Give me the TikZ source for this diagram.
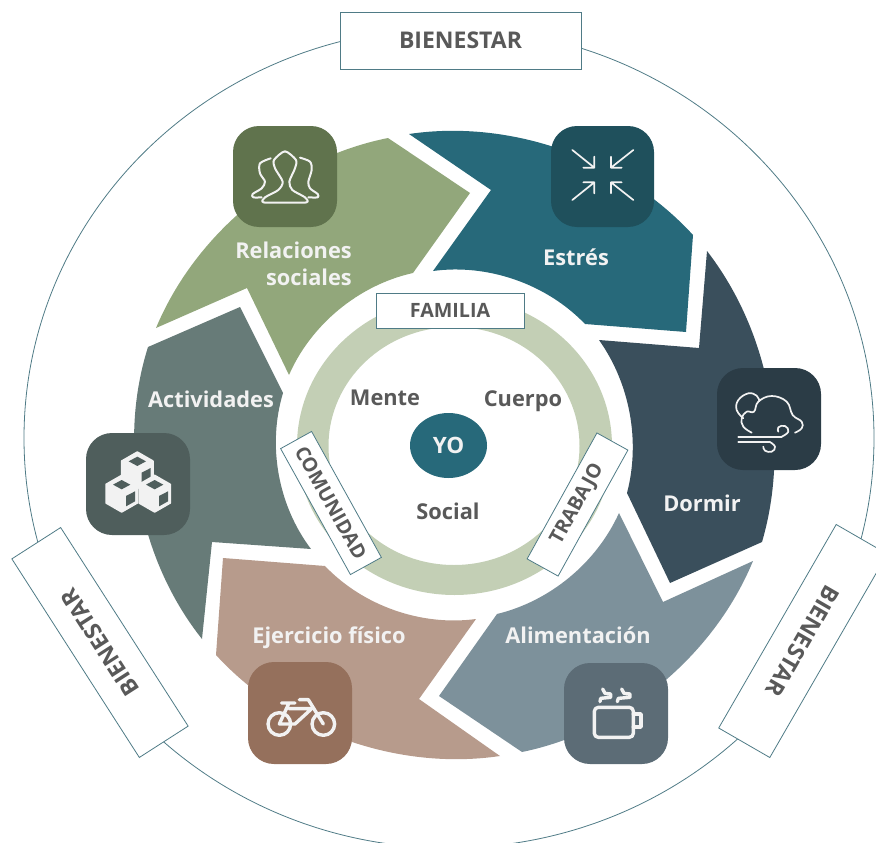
\documentclass[tikz,border=0pt]{standalone}
\usepackage{fontspec}
\setmainfont{Open Sans}
\usetikzlibrary{calc,shapes.geometric}
\definecolor{cRel}{HTML}{92A77B}\definecolor{iRel}{HTML}{60734D}
\definecolor{cEst}{HTML}{27697A}\definecolor{iEst}{HTML}{1F505C}
\definecolor{cDor}{HTML}{3A4F5C}\definecolor{iDor}{HTML}{2B3C46}
\definecolor{cAli}{HTML}{7D919B}\definecolor{iAli}{HTML}{5C6C76}
\definecolor{cEje}{HTML}{B79B8C}\definecolor{iEje}{HTML}{95705C}
\definecolor{cAct}{HTML}{677B78}\definecolor{iAct}{HTML}{4F5E5C}
\definecolor{ringc}{HTML}{C3CFB5}\definecolor{txtc}{HTML}{595959}
\definecolor{edgec}{HTML}{4F7B86}\definecolor{glyph}{HTML}{F2F2F2}
\tikzset{
 arcb/.style={looseness=0.88},
 labelbox/.style={draw=edgec,fill=white,line width=0.8pt,inner sep=0pt,text=txtc,font=\fontsize{19.7}{22}\selectfont\bfseries},
 bigbox/.style={labelbox,font=\fontsize{23}{25}\selectfont\bfseries},
 seglabel/.style={text=glyph,font=\fontsize{21.8}{27}\selectfont\bfseries,inner sep=0pt},
 midlabel/.style={text=txtc,font=\fontsize{21.8}{24}\selectfont\bfseries,inner sep=0pt},
 iconbox/.style={rounded corners=26pt,draw=none},
 thinicon/.style={draw=glyph,line width=1.7pt,line cap=round,line join=round},
 thickicon/.style={draw=glyph,line width=3.4pt,line cap=round,line join=round},
 zoomed/.style={x=0.33333pt,y=-0.33333pt},
}
\begin{document}
\begin{tikzpicture}[x=1pt,y=-1pt]
\clip (0,0) rectangle (876,843);
% outer ellipse
\draw[edgec,line width=0.8pt] (449,438) ellipse [x radius=425pt,y radius=410pt];
% outer boxes
\node[bigbox,minimum width=241pt,minimum height=57pt] (topbox) at (460.5,40.5) {BIENESTAR};
\node[bigbox,minimum width=236pt,minimum height=58pt,rotate=122.7] (leftbox) at (100,642.5) {BIENESTAR};
\node[bigbox,minimum width=235pt,minimum height=59pt,rotate=240] (rightbox) at (803,641) {BIENESTAR};
% segments
\fill[cRel] (470,193) -- (413,273) to[bend right=27,arcb] (289,375) -- (247,288) -- (156,328) to[bend left=28,arcb] (388,138) -- cycle;
\fill[cEst] (409,134) to[bend left=28,arcb] (693,235) -- (686,332) -- (585,324) to[bend right=27,arcb] (433,271) -- (491,190) -- cycle;
\fill[cDor] (707,251) to[bend left=27,arcb] (762,542) -- (670,583) -- (627,493) to[bend right=25,arcb] (599,340) -- (699,348) -- cycle;
\fill[cAli] (753,561) to[bend left=28,arcb] (522,752) -- (439,696) -- (497,614) to[bend right=26,arcb] (619,513) -- (663,602) -- cycle;
\fill[cEje] (500,756) to[bend left=28,arcb] (216,655) -- (223,558) -- (325,566) to[bend right=27,arcb] (476,619) -- (419,699) -- cycle;
\fill[cAct] (202,639) to[bend left=28,arcb] (148,347) -- (240,307) -- (283,393) to[bend right=27,arcb] (311,549) -- (212,542) -- cycle;
% ring
\fill[ringc,even odd rule] (454.5,446) ellipse [x radius=157.5pt,y radius=149pt] (454,446) ellipse [x radius=125.5pt,y radius=119pt];
% inner boxes
\node[labelbox,minimum width=148pt,minimum height=35pt] (familia) at (450,310.5) {FAMILIA};
\node[labelbox,minimum width=144pt,minimum height=35.4pt,rotate=61] (trabajo) at (577.5,504.5) {TRABAJO};
\node[labelbox,minimum width=144pt,minimum height=35.4pt,rotate=-61] (comunidad) at (331,503) {COMUNIDAD};
% centre
\node[ellipse,fill=cEst,minimum width=77pt,minimum height=65pt,inner sep=0pt,text=glyph,font=\fontsize{22.5}{24}\selectfont\bfseries] (yo) at (448.5,445.5) {YO};
\node[midlabel,anchor=base] (mente) at (385,405) {Mente};
\node[midlabel,anchor=base] (cuerpo) at (523,406) {Cuerpo};
\node[midlabel,anchor=base] (social) at (448,519) {Social};
% segment labels
\node[seglabel,align=right,anchor=east] (relaciones) at (352,263.5) {Relaciones\\sociales};
\node[seglabel,anchor=base] (estres) at (576,265) {Estrés};
\node[seglabel,anchor=base] (dormir) at (702,511) {Dormir};
\node[seglabel,anchor=base] (alimentacion) at (578,643) {Alimentación};
\node[seglabel,anchor=base] (ejercicio) at (329,643) {Ejercicio físico};
\node[seglabel,anchor=base] (actividades) at (211,407) {Actividades};
% icon tiles
\fill[iRel,iconbox] (233,126) rectangle (337,227);
\fill[iEst,iconbox] (551,126) rectangle (654,227);
\fill[iDor,iconbox] (717,368) rectangle (821,470);
\fill[iAli,iconbox] (564,663) rectangle (668,764);
\fill[iEje,iconbox] (248,662) rectangle (352,764);
\fill[iAct,iconbox] (86,433) rectangle (190,535);
% stress arrows
\begin{scope}[shift={(540,120)},zoomed,thinicon]
\draw (97,90) -- (163,143) (130,143) -- (163,143) -- (163,110);
\draw (280,90) -- (213,143) (245,143) -- (213,143) -- (213,110);
\draw (97,240) -- (163,187) (130,187) -- (163,187) -- (163,220);
\draw (280,240) -- (213,187) (245,187) -- (213,187) -- (213,220);
\end{scope}
% cloud and wind
\begin{scope}[shift={(710,365)},zoomed,thinicon]
\draw plot[smooth,tension=0.7] coordinates {(100,160) (80,135) (85,105) (115,85) (140,92) (148,108)};
\draw plot[smooth,tension=0.7] coordinates {(125,203) (100,185) (95,160) (110,140) (132,140) (145,110) (185,93) (230,110) (248,150) (275,170) (275,190) (255,203)};
\draw (85,215) -- (215,215);
\draw plot[smooth,tension=0.8] coordinates {(215,215) (235,200) (225,183) (205,187) (205,200)};
\draw (85,230) -- (178,230);
\draw plot[smooth,tension=0.8] coordinates {(178,230) (195,245) (185,260) (165,257) (160,245)};
\end{scope}
% people
\begin{scope}[shift={(225,120)},zoomed,thinicon,line width=2pt]
\draw plot[smooth cycle,tension=0.45] coordinates {(115,247) (120,232) (160,210) (173,185) (150,145) (147,120) (180,94) (213,120) (210,145) (193,185) (202,210) (240,232) (245,247) (180,248)};
\draw plot[smooth,tension=0.5] coordinates {(137,115) (105,130) (105,160) (120,185) (110,205) (83,222) (85,232) (110,232)};
\draw plot[smooth,tension=0.5] coordinates {(225,113) (255,125) (260,150) (250,185) (255,205) (278,222) (278,232) (250,232)};
\end{scope}
% cubes
\begin{scope}[shift={(80,428)},zoomed]
\foreach \cx/\cy in {172/127,125/197,224/197}{
 \fill[glyph,draw=glyph,line width=1.5pt,line join=round] (\cx,\cy-55) -- (\cx+47,\cy-28) -- (\cx+47,\cy+28) -- (\cx,\cy+55) -- (\cx-47,\cy+28) -- (\cx-47,\cy-28) -- cycle;
 \fill[iAct] (\cx,\cy-41) -- (\cx+26,\cy-27) -- (\cx,\cy-13) -- (\cx-26,\cy-27) -- cycle;
 \fill[iAct] (\cx+13,\cy+7) -- (\cx+40,\cy-7) -- (\cx+40,\cy+23) -- (\cx+13,\cy+38) -- cycle;
}
\end{scope}
% bicycle
\begin{scope}[shift={(240,658)},zoomed,thickicon]
\draw (118,198) circle [radius=11.3pt];
\draw (250,198) circle [radius=11.3pt];
\draw (125,135) -- (165,135) (147,135) -- (118,198) -- (165,198) -- (215,152) -- (147,152);
\draw (178,125) -- (205,125) -- (250,198);
\end{scope}
% cup
\begin{scope}[shift={(556,658)},zoomed,thickicon]
\draw[rounded corners=4pt] (115,148) -- (115,238) -- (232,238) -- (232,148) -- cycle;
\draw (232,168) -- (255,168) -- (255,207) -- (232,207);
\draw (140,93) -- (147,106) -- (164,108) -- (164,118) -- (134,121) -- (132,131);
\draw (197,93) -- (204,106) -- (222,108) -- (222,118) -- (187,121) -- (184,131);
\end{scope}
\end{tikzpicture}
\end{document}
